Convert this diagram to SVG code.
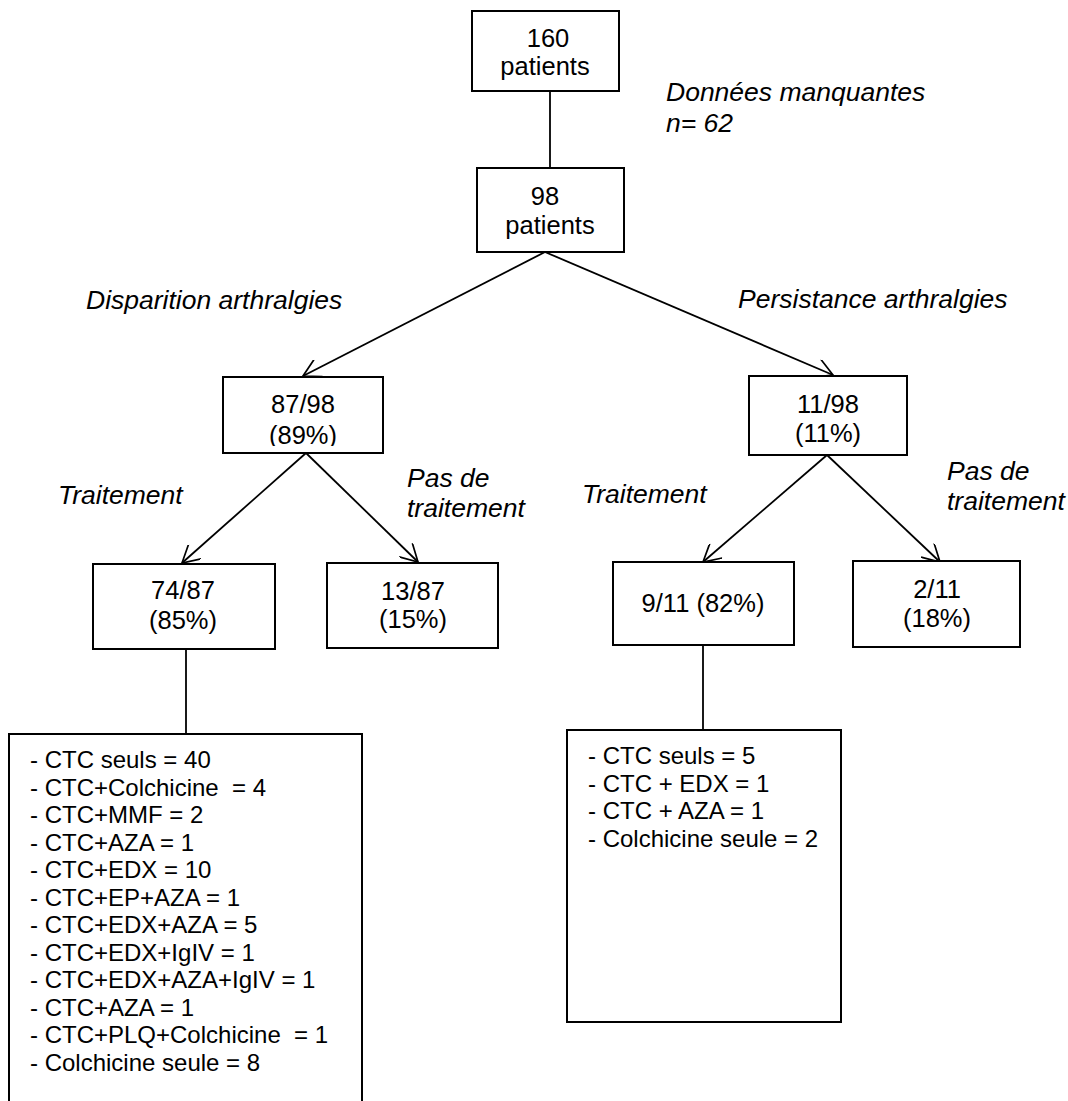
<svg xmlns="http://www.w3.org/2000/svg" width="1068" height="1101" viewBox="0 0 1068 1101">
<style>
.box{fill:#fff;stroke:#000;stroke-width:2}
.t{font-family:"Liberation Sans",Arial,sans-serif;font-size:25.5px;fill:#000;text-anchor:middle}
.i{font-family:"Liberation Sans",Arial,sans-serif;font-size:26.5px;font-style:italic;fill:#000}
.l{font-family:"Liberation Sans",Arial,sans-serif;font-size:24px;fill:#000;white-space:pre}
.c{stroke:#000;stroke-width:1.8;fill:none}
</style>
<defs>
<marker id="ah" viewBox="0 0 20 20" refX="19" refY="10" markerWidth="19" markerHeight="19" markerUnits="userSpaceOnUse" orient="auto">
<path d="M1,0 L19,10 L1,20" fill="none" stroke="#000" stroke-width="1.8"/>
</marker>
<clipPath id="clip89"><rect x="223" y="377" width="160" height="69"/></clipPath>
</defs>
<rect width="1068" height="1101" fill="#fff"/>
<g id="connectors">
<line class="c" x1="550" y1="91" x2="550" y2="168"/>
<line class="c" x1="545" y1="252" x2="303" y2="376" marker-end="url(#ah)"/>
<line class="c" x1="545" y1="252" x2="833" y2="375" marker-end="url(#ah)"/>
<line class="c" x1="306" y1="453" x2="182" y2="563" marker-end="url(#ah)"/>
<line class="c" x1="306" y1="453" x2="418" y2="562" marker-end="url(#ah)"/>
<line class="c" x1="827" y1="455" x2="703" y2="562" marker-end="url(#ah)"/>
<line class="c" x1="827" y1="455" x2="940" y2="562" marker-end="url(#ah)"/>
<line class="c" x1="186" y1="649" x2="186" y2="734"/>
<line class="c" x1="703" y1="645" x2="703" y2="730"/>
</g>
<g id="n160">
<rect class="box" x="472" y="11" width="147" height="80"/>
<text class="t" x="548" y="47">160</text>
<text class="t" x="545" y="75">patients</text>
</g>
<g id="missing">
<text class="i" x="666" y="101">Données manquantes</text>
<text class="i" x="666" y="132">n= 62</text>
</g>
<g id="n98">
<rect class="box" x="477" y="168" width="147" height="84"/>
<text class="t" x="545" y="205">98</text>
<text class="t" x="550" y="234">patients</text>
</g>
<g id="labels-top">
<text class="i" x="86" y="309">Disparition arthralgies</text>
<text class="i" x="738" y="308">Persistance arthralgies</text>
</g>
<g id="n8798">
<rect class="box" x="223" y="377" width="160" height="76"/>
<text class="t" x="303" y="413">87/98</text>
<text class="t" x="303" y="444" clip-path="url(#clip89)">(89%)</text>
</g>
<g id="n1198">
<rect class="box" x="749" y="376" width="158" height="79"/>
<text class="t" x="828" y="413">11/98</text>
<text class="t" x="828" y="442">(11%)</text>
</g>
<g id="labels-mid">
<text class="i" x="58" y="504">Traitement</text>
<text class="i" x="407" y="487">Pas de</text>
<text class="i" x="407" y="517">traitement</text>
<text class="i" x="582" y="503">Traitement</text>
<text class="i" x="947" y="480">Pas de</text>
<text class="i" x="947" y="510">traitement</text>
</g>
<g id="n7487">
<rect class="box" x="93" y="564" width="182" height="85"/>
<text class="t" x="183" y="599">74/87</text>
<text class="t" x="183" y="629">(85%)</text>
</g>
<g id="n1387">
<rect class="box" x="327" y="563" width="171" height="85"/>
<text class="t" x="413" y="600">13/87</text>
<text class="t" x="413" y="628">(15%)</text>
</g>
<g id="n911">
<rect class="box" x="613" y="562" width="181" height="83"/>
<text class="t" x="703" y="612">9/11 (82%)</text>
</g>
<g id="n211">
<rect class="box" x="853" y="561" width="167" height="86"/>
<text class="t" x="937" y="598">2/11</text>
<text class="t" x="937" y="627">(18%)</text>
</g>
<g id="list-left">
<rect class="box" x="9" y="734" width="353" height="380"/>
<text class="l" x="30" y="768">- CTC seuls = 40</text>
<text class="l" x="30" y="795.5">- CTC+Colchicine  = 4</text>
<text class="l" x="30" y="823">- CTC+MMF = 2</text>
<text class="l" x="30" y="850.5">- CTC+AZA = 1</text>
<text class="l" x="30" y="878">- CTC+EDX = 10</text>
<text class="l" x="30" y="905.5">- CTC+EP+AZA = 1</text>
<text class="l" x="30" y="933">- CTC+EDX+AZA = 5</text>
<text class="l" x="30" y="960.5">- CTC+EDX+IgIV = 1</text>
<text class="l" x="30" y="988">- CTC+EDX+AZA+IgIV = 1</text>
<text class="l" x="30" y="1015.5">- CTC+AZA = 1</text>
<text class="l" x="30" y="1043">- CTC+PLQ+Colchicine  = 1</text>
<text class="l" x="30" y="1070.5">- Colchicine seule = 8</text>
</g>
<g id="list-right">
<rect class="box" x="567" y="730" width="274" height="292"/>
<text class="l" x="588" y="764">- CTC seuls = 5</text>
<text class="l" x="588" y="791.5">- CTC + EDX = 1</text>
<text class="l" x="588" y="819">- CTC + AZA = 1</text>
<text class="l" x="588" y="846.5">- Colchicine seule = 2</text>
</g>
</svg>
